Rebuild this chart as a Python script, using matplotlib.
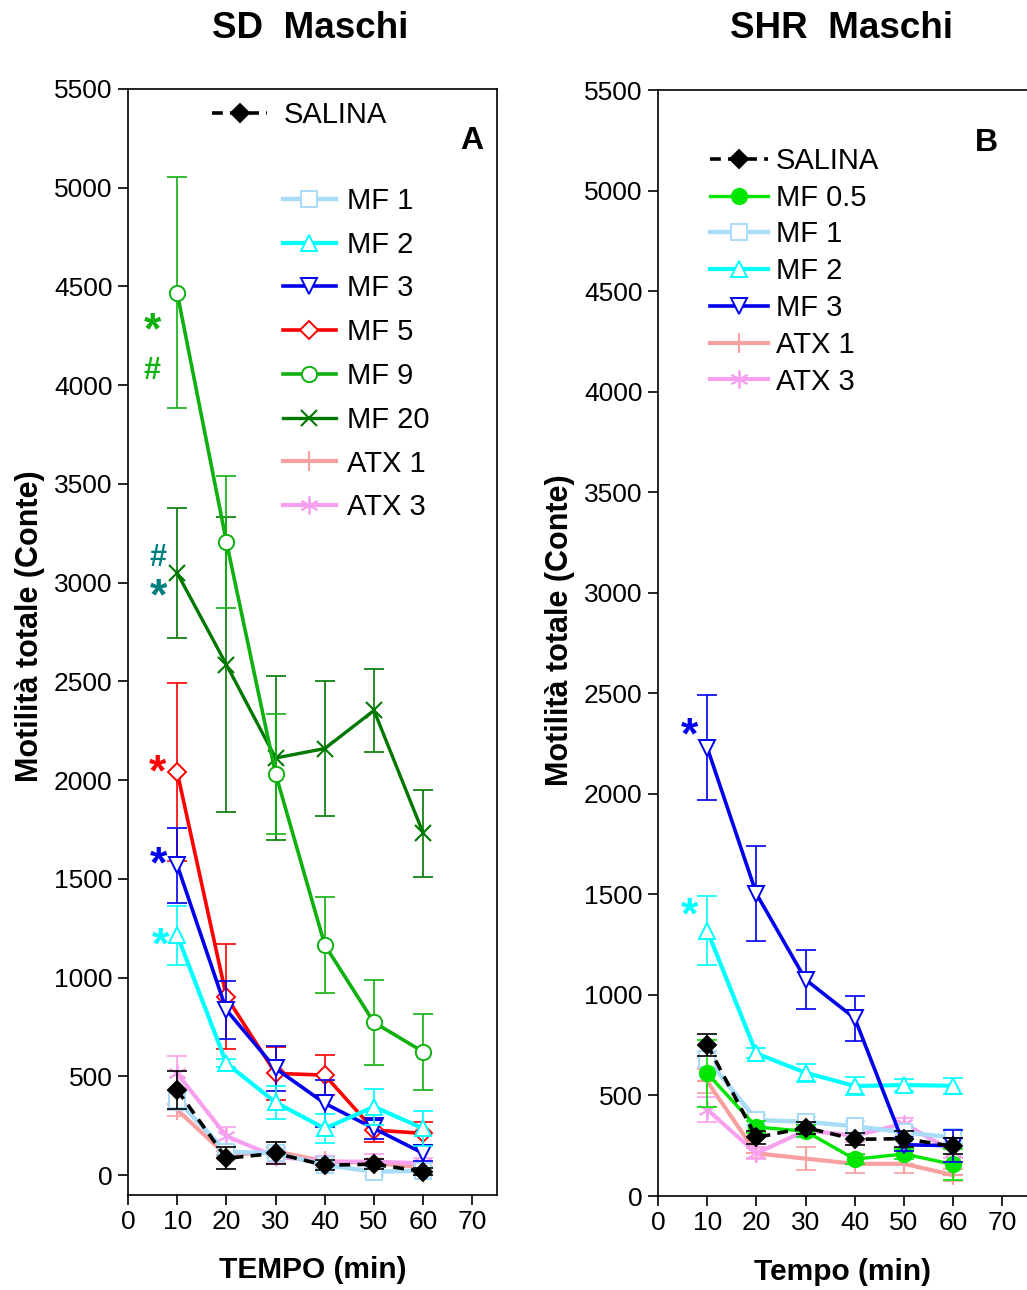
import matplotlib
matplotlib.use("Agg")
import matplotlib.pyplot as plt
from matplotlib.lines import Line2D

plt.rcParams['font.family'] = ['Liberation Sans', 'DejaVu Sans']

# ---- data -------------------------------------------------------------
time = [10, 20, 30, 40, 50, 60]

# Panel A: SD males
sal_A = [430, 85, 110, 50, 55, 18]
sal_A_err = [95, 55, 55, 25, 25, 20]
mf1_A = [380, 118, 111, 51, 17, 22]
mf1_A_err = [50, 30, 25, 20, 20, 20]
mf2_A = [1215, 566, 368, 236, 346, 236]
mf2_A_err = [150, 20, 85, 73, 90, 88]
mf3_A = [1570, 836, 540, 363, 236, 110]
mf3_A_err = [190, 145, 115, 118, 52, 40]
mf5_A = [2041, 903, 515, 506, 228, 211]
mf5_A_err = [450, 265, 135, 100, 62, 58]
mf9_A = [4467, 3207, 2032, 1165, 773, 624]
mf9_A_err = [585, 335, 305, 244, 215, 192]
mf20_A = [3049, 2585, 2112, 2160, 2353, 1731]
mf20_A_err = [328, 745, 413, 340, 210, 220]
atx1_A = [330, 100, 120, 70, 60, 40]
atx1_A_err = [30, 20, 20, 20, 20, 20]
atx3_A = [515, 197, 93, 68, 68, 59]
atx3_A_err = [90, 48, 30, 30, 37, 25]

# Panel B: SHR males
sal_B = [753, 291, 340, 282, 285, 247]
sal_B_err = [55, 30, 30, 30, 40, 40]
mf05_B = [610, 343, 322, 183, 209, 157]
mf05_B_err = [165, 30, 30, 25, 25, 75]
mf1_B = [683, 378, 369, 347, 317, 291]
mf1_B_err = [40, 25, 25, 25, 25, 25]
mf2_B = [1320, 709, 613, 547, 552, 548]
mf2_B_err = [172, 25, 45, 45, 30, 40]
mf3_B = [2230, 1503, 1076, 884, 255, 250]
mf3_B_err = [260, 236, 147, 112, 30, 80]
atx1_B = [570, 212, 186, 160, 160, 104]
atx1_B_err = [60, 25, 56, 45, 45, 30]
atx3_B = [430, 212, 326, 300, 360, 221]
atx3_B_err = [63, 30, 30, 30, 30, 30]

yticks = list(range(0, 5501, 500))
xticks = list(range(0, 71, 10))

# ---- styles -----------------------------------------------------------
C_MF05 = '#00e600'
C_MF1 = '#a8dcf8'
C_MF2 = '#00ffff'
C_MF3 = '#0000ee'
C_MF5 = '#ff0000'
C_MF9 = '#10b010'
C_MF20 = '#007800'
C_ATX1 = '#f8a0a0'
C_ATX3 = '#f8a0f0'
C_TEAL = '#007f7f'

STY = {
    'SALINA': dict(color='black', marker='D', mfc='black', mec='black', ms=9, lw=2.6, ls=(0, (3, 2))),
    'MF 0.5': dict(color=C_MF05, marker='o', mfc=C_MF05, mec=C_MF05, ms=11, lw=2.4),
    'MF 1': dict(color=C_MF1, marker='s', mfc='white', mec=C_MF1, ms=11, lw=3.2),
    'MF 2': dict(color=C_MF2, marker='^', mfc='white', mec=C_MF2, ms=11, lw=3.0),
    'MF 3': dict(color=C_MF3, marker='v', mfc='white', mec=C_MF3, ms=11, lw=2.6),
    'MF 5': dict(color=C_MF5, marker='D', mfc='white', mec=C_MF5, ms=9, lw=2.6),
    'MF 9': dict(color=C_MF9, marker='o', mfc='white', mec=C_MF9, ms=11, lw=2.6),
    'MF 20': dict(color=C_MF20, marker='x', mfc='none', mec=C_MF20, ms=12, mew=1.5, lw=2.4),
    'ATX 1': dict(color=C_ATX1, marker='+', mfc='none', mec=C_ATX1, ms=14, mew=1.5, lw=3.0),
    'ATX 3': dict(color=C_ATX3, marker=(6, 2, 0), mfc='none', mec=C_ATX3, ms=13, mew=1.3, lw=3.0),
}


def draw(ax, name, vals, errs, z):
    st = dict(STY[name])
    st.setdefault('mew', 1.4)
    ax.errorbar(time, vals, yerr=errs, fmt='none', ecolor=st['color'],
                elinewidth=1.2, capsize=7, capthick=1.2, zorder=z)
    ax.plot(time, vals, label=name, zorder=z + 0.5, clip_on=False, **st)


def handle(name):
    st = dict(STY[name])
    st.setdefault('mew', 1.4)
    return Line2D([], [], **st)


def style_axes(ax, ylow):
    ax.set_xlim(0, 75)
    ax.set_ylim(ylow, 5500)
    ax.set_xticks(xticks)
    ax.set_yticks(yticks)
    ax.tick_params(axis='both', direction='out', length=7, width=1.2,
                   labelsize=19, pad=4)
    for s in ax.spines.values():
        s.set_linewidth(1.2)


def mark(ax, x, y, sym, col):
    fs = 32 if sym == '*' else 22
    ax.text(x, y, sym, color=col, fontsize=fs, fontweight='bold',
            ha='center', va='center')


fig = plt.figure(figsize=(10.27, 12.90), dpi=100)

# ---- panel A ----------------------------------------------------------
axA = fig.add_axes([128 / 1027, 1 - 1195 / 1290, (497 - 128) / 1027, (1195 - 89) / 1290])
style_axes(axA, -101)
draw(axA, 'ATX 1', atx1_A, atx1_A_err, 2)
draw(axA, 'ATX 3', atx3_A, atx3_A_err, 3)
draw(axA, 'MF 1', mf1_A, mf1_A_err, 4)
draw(axA, 'MF 20', mf20_A, mf20_A_err, 5)
draw(axA, 'MF 9', mf9_A, mf9_A_err, 6)
draw(axA, 'MF 5', mf5_A, mf5_A_err, 7)
draw(axA, 'MF 3', mf3_A, mf3_A_err, 8)
draw(axA, 'MF 2', mf2_A, mf2_A_err, 9)
draw(axA, 'SALINA', sal_A, sal_A_err, 10)

axA.set_xlabel('TEMPO (min)', fontsize=21.5, fontweight='bold', labelpad=16)
axA.set_ylabel('Motilità totale (Conte)', fontsize=22, fontweight='bold')
axA.yaxis.set_label_coords(-0.225, 0.514)
axA.text(0.932, 0.953, 'A', transform=axA.transAxes, fontsize=23,
         fontweight='bold', ha='center', va='center')

legA1 = axA.legend(handles=[handle('SALINA')], labels=['SALINA'],
                   loc='upper left', bbox_to_anchor=(212 / 1027, 1 - 101 / 1290),
                   bbox_transform=fig.transFigure, frameon=False, fontsize=21,
                   handlelength=1.9, handletextpad=0.55, borderpad=0, borderaxespad=0)
axA.add_artist(legA1)
namesA = ['MF 1', 'MF 2', 'MF 3', 'MF 5', 'MF 9', 'MF 20', 'ATX 1', 'ATX 3']
axA.legend(handles=[handle(n) for n in namesA], labels=namesA,
           loc='upper left', bbox_to_anchor=(283 / 1027, 1 - 187 / 1290),
           bbox_transform=fig.transFigure, frameon=False, fontsize=21,
           handlelength=1.8, handletextpad=0.4, labelspacing=0.54,
           borderpad=0, borderaxespad=0)

# significance marks beside the 10-min points
mark(axA, 4.9, mf9_A[0] - 195, '*', C_MF9)
mark(axA, 4.9, mf9_A[0] - 395, '#', C_MF9)
mark(axA, 6.1, mf20_A[0] + 75, '#', C_TEAL)
mark(axA, 6.1, mf20_A[0] - 125, '*', C_TEAL)
mark(axA, 6.0, mf5_A[0] - 10, '*', C_MF5)
mark(axA, 6.1, mf3_A[0] - 5, '*', C_MF3)
mark(axA, 6.5, mf2_A[0] - 60, '*', C_MF2)

# ---- panel B ----------------------------------------------------------
axB = fig.add_axes([658 / 1027, 1 - 1196 / 1290, (1027 - 658) / 1027, (1196 - 90) / 1290])
style_axes(axB, 0)
axB.spines['right'].set_visible(False)
draw(axB, 'ATX 1', atx1_B, atx1_B_err, 2)
draw(axB, 'ATX 3', atx3_B, atx3_B_err, 3)
draw(axB, 'MF 1', mf1_B, mf1_B_err, 4)
draw(axB, 'MF 0.5', mf05_B, mf05_B_err, 5)
draw(axB, 'MF 2', mf2_B, mf2_B_err, 6)
draw(axB, 'MF 3', mf3_B, mf3_B_err, 7)
draw(axB, 'SALINA', sal_B, sal_B_err, 10)

axB.set_xlabel('Tempo (min)', fontsize=21.5, fontweight='bold', labelpad=16)
axB.set_ylabel('Motilità totale (Conte)', fontsize=22, fontweight='bold')
axB.yaxis.set_label_coords(-0.225, 0.512)
axB.text(0.889, 0.952, 'B', transform=axB.transAxes, fontsize=23,
         fontweight='bold', ha='center', va='center')

namesB = ['SALINA', 'MF 0.5', 'MF 1', 'MF 2', 'MF 3', 'ATX 1', 'ATX 3']
axB.legend(handles=[handle(n) for n in namesB], labels=namesB,
           loc='upper left', bbox_to_anchor=(710 / 1027, 1 - 147 / 1290),
           bbox_transform=fig.transFigure, frameon=False, fontsize=21,
           handlelength=2.0, handletextpad=0.25, labelspacing=0.3,
           borderpad=0, borderaxespad=0)

mark(axB, 6.3, mf3_B[0] + 55, '*', C_MF3)
mark(axB, 6.3, mf2_B[0] + 70, '*', C_MF2)

# ---- titles -----------------------------------------------------------
fig.text(310 / 1027, 1 - 28 / 1290, 'SD  Maschi', fontsize=26.5, fontweight='bold',
         ha='center', va='center')
fig.text(841 / 1027, 1 - 28 / 1290, 'SHR  Maschi', fontsize=26.5, fontweight='bold',
         ha='center', va='center')

fig.savefig('out.png', dpi=100)
